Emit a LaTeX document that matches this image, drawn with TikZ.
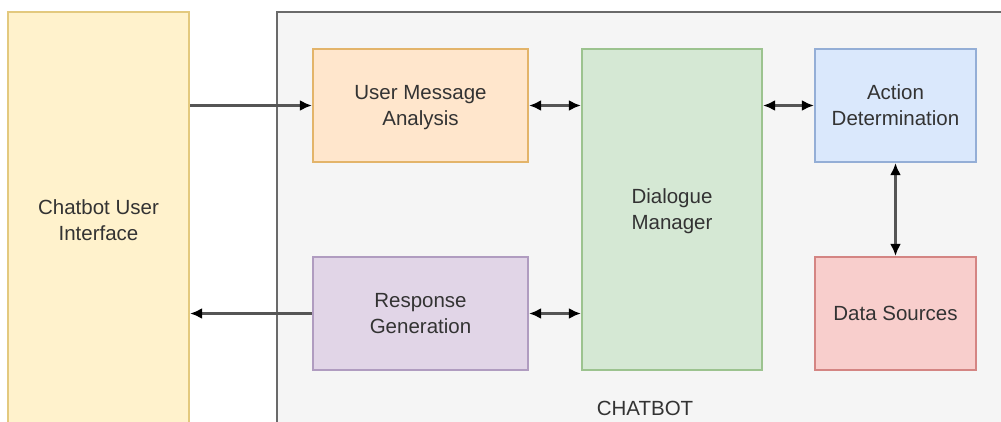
\documentclass[tikz,border=0pt]{standalone}
\usepackage{fontspec}
\setmainfont{Liberation Sans}
\usetikzlibrary{arrows.meta}
\definecolor{uifill}{HTML}{FFF2CC}\definecolor{uidraw}{HTML}{E3C97E}
\definecolor{orfill}{HTML}{FFE6CC}\definecolor{ordraw}{HTML}{E3B46A}
\definecolor{grfill}{HTML}{D5E8D4}\definecolor{grdraw}{HTML}{9CC38F}
\definecolor{blfill}{HTML}{DAE8FC}\definecolor{bldraw}{HTML}{94AED6}
\definecolor{rdfill}{HTML}{F8CECC}\definecolor{rddraw}{HTML}{D48583}
\definecolor{pufill}{HTML}{E1D5E7}\definecolor{pudraw}{HTML}{B09CC0}
\definecolor{contfill}{HTML}{F5F5F5}\definecolor{contdraw}{HTML}{6A6A6A}
\definecolor{linec}{HTML}{555555}
\tikzset{
  box/.style={draw, line width=2.2pt, inner sep=0pt, align=center, text depth=0pt,
    font=\fontsize{20.5}{26}\selectfont, text=black!80},
  conn/.style={draw=linec, line width=2.4pt},
  tip/.style={-{Latex[length=12pt,width=11pt,black]}},
  dtip/.style={{Latex[length=12pt,width=11pt,black]}-{Latex[length=12pt,width=11pt,black]}},
}
\begin{document}
\begin{tikzpicture}[x=1pt,y=-1pt]
\useasboundingbox (0,0) rectangle (1001,421);
\clip (0,0) rectangle (1001,421);
\fill[white] (0,0) rectangle (1001,421);
% container
\draw[fill=contfill, draw=contdraw, line width=2.4pt] (277,12) rectangle (1015,440);
\node[font=\fontsize{20.5}{26}\selectfont, text=black!80] (lbl) at (645,408) {CHATBOT};
% nodes
\node[box, fill=uifill, draw=uidraw, minimum width=181pt, minimum height=416pt] (ui) at (98.5,220) {Chatbot User\\Interface};
\node[box, fill=orfill, draw=ordraw, minimum width=215pt, minimum height=113pt] (uma) at (420.5,105.5) {User Message\\Analysis};
\node[box, fill=grfill, draw=grdraw, minimum width=180pt, minimum height=321pt] (dm) at (672,209.5) {Dialogue\\Manager};
\node[box, fill=blfill, draw=bldraw, minimum width=161pt, minimum height=113pt] (ad) at (895.5,105.5) {Action\\Determination};
\node[box, fill=rdfill, draw=rddraw, minimum width=161pt, minimum height=113pt] (ds) at (895.5,313.5) {Data Sources};
\node[box, fill=pufill, draw=pudraw, minimum width=215pt, minimum height=113pt] (rg) at (420.5,313.5) {Response\\Generation};
% connectors
\draw[conn, tip] (ui.east |- uma.west) -- (uma.west);
\draw[conn, tip] (rg.west) -- (rg.west -| ui.east);
\draw[conn, dtip] (uma.east) -- (uma.east -| dm.west);
\draw[conn, dtip] (rg.east) -- (rg.east -| dm.west);
\draw[conn, dtip] (ad.west -| dm.east) -- (ad.west);
\draw[conn, dtip] (ad.south) -- (ds.north);
\end{tikzpicture}
\end{document}
